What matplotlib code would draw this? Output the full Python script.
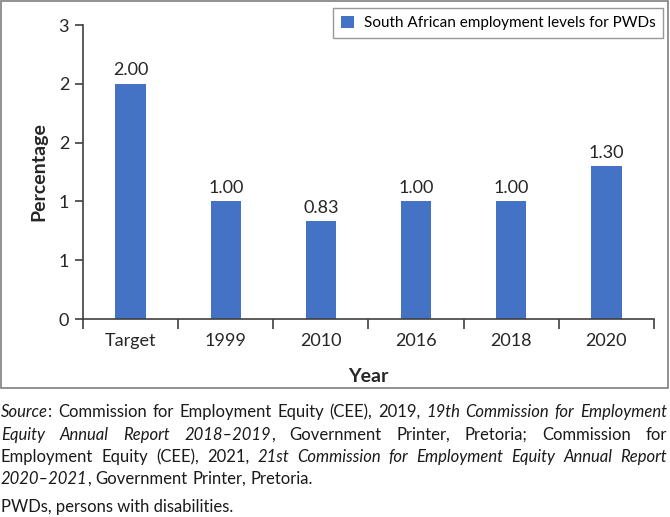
import matplotlib
matplotlib.use('Agg')
import matplotlib.pyplot as plt
from matplotlib.patches import Rectangle

plt.rcParams['font.family'] = ['Lato', 'DejaVu Sans']

categories = ['Target', '1999', '2010', '2016', '2018', '2020']
levels = [2.00, 1.00, 0.83, 1.00, 1.00, 1.30]
ytick_vals = [0, 0.5, 1.0, 1.5, 2.0, 2.5]
ytick_labels = ['0', '1', '1', '2', '2', '3']
series_name = 'South African employment levels for PWDs'

# caption lines: each word is a list of (text, italic) pieces
caption_lines = [
    ([[('Source', True), (':', False)], 'Commission for Employment Equity (CEE), 2019,',
      ('19th Commission for Employment', True)], True),
    ([('Equity Annual Report', True), [('2018–2019', True), (',', False)],
      'Government Printer, Pretoria; Commission for'], True),
    (['Employment Equity (CEE), 2021,',
      ('21st Commission for Employment Equity Annual Report', True)], True),
    ([[('2020–2021', True), (',', False)], 'Government Printer, Pretoria.'], False),
]
note = 'PWDs, persons with disabilities.'

W, H = 670, 517
fig = plt.figure(figsize=(W / 100, H / 100), dpi=100)
ax = fig.add_axes([83 / W, 1 - 319 / H, (654 - 83) / W, (319 - 25) / H])

blue = '#4472C4'
dark = '#404040'
x = range(len(categories))
bars = ax.bar(x, levels, width=0.32, color=blue, label=series_name)
ax.bar_label(bars, labels=['%.2f' % v for v in levels], padding=4, fontsize=13, color='#262626')

ax.set_xlim(-0.5, len(categories) - 0.5)
ax.set_ylim(0, 2.5)
ax.set_yticks(ytick_vals)
ax.set_yticklabels(ytick_labels)
ax.set_xticks(list(x))
ax.set_xticklabels(categories)
ax.set_xticks([i - 0.5 for i in range(len(categories) + 1)], minor=True)
ax.tick_params(axis='x', which='major', length=0, pad=10, labelsize=13, labelcolor='#262626')
ax.tick_params(axis='x', which='minor', length=7, width=1.2, color=dark, direction='out')
ax.tick_params(axis='y', length=6, width=1.2, color=dark, labelsize=13, labelcolor='#262626', pad=4)
for s in ['top', 'right']:
    ax.spines[s].set_visible(False)
for s in ['left', 'bottom']:
    ax.spines[s].set_color(dark)
    ax.spines[s].set_linewidth(1.2)

ax.set_ylabel('Percentage', fontsize=14, fontweight='bold', color='#262626', labelpad=8)
ax.set_xlabel('Year', fontsize=14, fontweight='bold', color='#262626', labelpad=14)

leg = ax.legend(loc='upper right', bbox_to_anchor=(663 / W, 1 - 8 / H), bbox_transform=fig.transFigure,
                fontsize=11, frameon=True, fancybox=False, handlelength=0.9, handleheight=0.9,
                handletextpad=0.6, borderpad=0.5, borderaxespad=0)
leg.get_frame().set_edgecolor('#7f7f7f')
leg.get_frame().set_linewidth(1.0)

# outer chart border
fig.patches.append(Rectangle((1 / W, 1 - 388 / H), 667 / W, 387 / H, transform=fig.transFigure,
                             fill=False, edgecolor='#7f7f7f', linewidth=1.2))

# caption, justified like the source
renderer = fig.canvas.get_renderer()
cap_size = 12
left_px, right_px = 1, 667
line_y = [412, 435, 457, 479]


def as_words(items):
    words = []
    for it in items:
        if isinstance(it, str):
            words += [[(w, False)] for w in it.split(' ')]
        elif isinstance(it, tuple):
            words += [[(w, it[1])] for w in it[0].split(' ')]
        else:
            words.append(it)
    return words


def piece_width(txt, italic):
    t = fig.text(0, 0, txt, fontsize=cap_size, style='italic' if italic else 'normal')
    w = t.get_window_extent(renderer).width
    t.remove()
    return w


space_w = piece_width('a a', False) - piece_width('aa', False)
for (items, justify), yp in zip(caption_lines, line_y):
    words = as_words(items)
    widths = [[piece_width(p, it) for p, it in w] for w in words]
    total = sum(sum(w) for w in widths)
    gap = (right_px - left_px - total) / (len(words) - 1) if justify else space_w
    xp = left_px
    for w, ws in zip(words, widths):
        for (p, it), pw in zip(w, ws):
            fig.text(xp / W, 1 - yp / H, p, fontsize=cap_size, style='italic' if it else 'normal',
                     va='center', ha='left', color='#1a1a1a')
            xp += pw
        xp += gap

fig.text(left_px / W, 1 - 507 / H, note, fontsize=cap_size, va='center', ha='left', color='#1a1a1a')

fig.savefig('out.png', dpi=100)
